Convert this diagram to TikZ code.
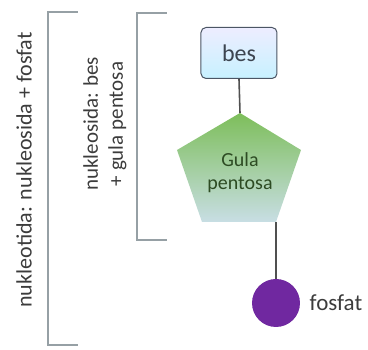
\documentclass[tikz,border=0pt]{standalone}
\usepackage{fontspec}
\setmainfont{Carlito}
\usetikzlibrary{positioning}
\definecolor{brgray}{RGB}{150,160,165}
\definecolor{txgray}{RGB}{60,60,60}
\definecolor{besline}{RGB}{75,85,100}
\definecolor{gulatext}{RGB}{45,75,35}
\definecolor{gulatop}{RGB}{125,190,90}
\definecolor{gulabot}{RGB}{200,222,228}
\definecolor{fosviolet}{RGB}{112,40,160}

\begin{document}
\begin{tikzpicture}[x=1pt,y=-1pt,
	bracket/.style={brgray,line width=1.4pt},
	conn/.style={txgray!90,line width=1.6pt},
	sidetext/.style={rotate=90,text=txgray,font=\fontsize{21}{25}\selectfont,align=center}]
	\useasboundingbox (0,0) rectangle (368,350);
	% brackets
	\draw[bracket](78,12)--(48,12)--(48,345)--(78,345);
	\draw[bracket](167,13)--(137,13)--(137,240)--(167,240);
	\node[sidetext,font=\fontsize{22}{25}\selectfont] (nukleotida) at (24,170) {nukleotida: nukleosida + fosfat};
	\node[sidetext] (nukleosida) at (105,124) {nukleosida: bes\\+ gula pentosa};
	% bes
	\node[draw=besline,line width=1pt,rounded corners=5,top color=blue!7,bottom color=blue!25!cyan!22,
		minimum width=76,minimum height=51,text=besline!80!black,font=\fontsize{24}{26}\selectfont] (bes) at (239,53) {bes};
	% gula pentosa
	\coordinate (ptop) at (240,113);
	\coordinate (pbl) at (202,222);
	\coordinate (pbr) at (276,222);
	\shade[top color=gulatop,bottom color=gulabot] (ptop)--(301,150)--(pbr)--(pbl)--(177,150)--cycle;
	\node[text=gulatext,align=center,font=\fontsize{20}{23}\selectfont] (gula) at (240,173) {Gula\\pentosa};
	% fosfat
	\node[circle,fill=fosviolet,minimum size=48,inner sep=0] (fosfat) at (276,303) {};
	\node[text=txgray,font=\fontsize{23}{26}\selectfont,right=6pt of fosfat] (fosfatlabel) {fosfat};
	\draw[conn](bes.south)--(ptop);
	\draw[conn](pbr)--(fosfat.north);
\end{tikzpicture}
\end{document}
